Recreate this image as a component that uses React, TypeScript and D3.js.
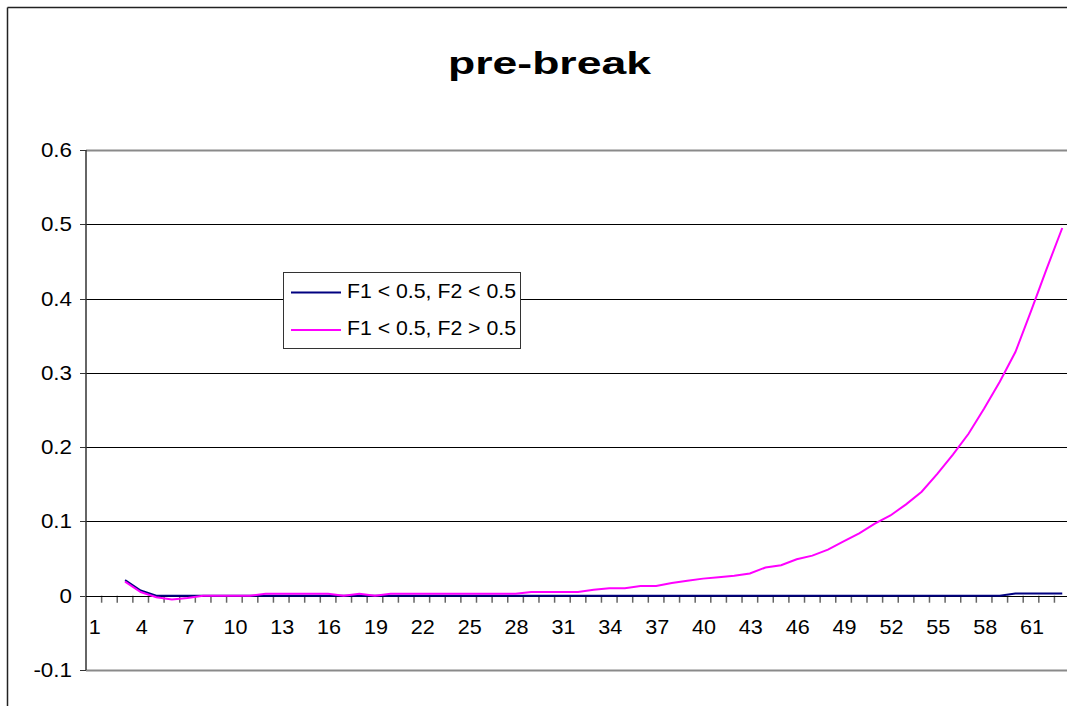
import React from "react";
import * as d3 from "d3";

const categories: number[] = [
  1, 2, 3, 4, 5, 6, 7, 8, 9, 10, 11, 12, 13, 14, 15, 16, 17, 18, 19, 20, 21,
  22, 23, 24, 25, 26, 27, 28, 29, 30, 31, 32, 33, 34, 35, 36, 37, 38, 39, 40,
  41, 42, 43, 44, 45, 46, 47, 48, 49, 50, 51, 52, 53, 54, 55, 56, 57, 58, 59,
  60, 61, 62, 63,
];

// F1 < 0.5, F2 < 0.5
const seriesBlue: (number | null)[] = [
  null, null, 0.021, 0.007, 0, 0, 0, 0, 0, 0, 0, 0, 0, 0, 0, 0, 0, 0, 0, 0, 0,
  0, 0, 0, 0, 0, 0, 0, 0, 0, 0, 0, 0, 0, 0, 0, 0, 0, 0, 0,
  0, 0, 0, 0, 0, 0, 0, 0, 0, 0, 0, 0, 0, 0, 0, 0, 0, 0, 0,
  0.003, 0.003, 0.003, 0.003,
];

// F1 < 0.5, F2 > 0.5
const seriesPink: (number | null)[] = [
  null, null, 0.019, 0.005, -0.002, -0.005, -0.003, 0, 0, 0, 0, 0.0025, 0.0025,
  0.0025, 0.0025, 0.0025, 0, 0.0025, 0, 0.0025, 0.0025,
  0.0025, 0.0025, 0.0025, 0.0025, 0.0025, 0.0025, 0.0025, 0.005, 0.005, 0.005,
  0.005, 0.008, 0.01, 0.01, 0.013, 0.013, 0.017, 0.02, 0.023,
  0.025, 0.027, 0.03, 0.038, 0.041, 0.049, 0.054, 0.062, 0.073, 0.084, 0.097,
  0.108, 0.123, 0.14, 0.164, 0.19, 0.218, 0.252, 0.288,
  0.328, 0.383, 0.44, 0.495,
];

const yTicks: number[] = [0.6, 0.5, 0.4, 0.3, 0.2, 0.1, 0, -0.1];
const yTickLabels: string[] = ["0.6", "0.5", "0.4", "0.3", "0.2", "0.1", "0", "-0.1"];
const xLabelCategories: number[] = [1, 4, 7, 10, 13, 16, 19, 22, 25, 28, 31, 34, 37, 40, 43, 46, 49, 52, 55, 58, 61];

const legendItems = [
  { label: "F1 < 0.5, F2 < 0.5", color: "#000080" },
  { label: "F1 < 0.5, F2 > 0.5", color: "#FF00FF" },
];

const FONT = "'Liberation Sans', Arial, sans-serif";

export default function App() {
  const left = 86;
  const right = 86 + 63 * 15.62;
  const top = 150;
  const bottom = 670;

  const x = d3
    .scaleBand<number>()
    .domain(categories)
    .range([left, right])
    .padding(0);
  const y = d3.scaleLinear().domain([-0.1, 0.6]).range([bottom, top]);
  const cx = (c: number) => (x(c) as number) + x.bandwidth() / 2;

  const line = d3
    .line<number | null>()
    .defined((d) => d !== null)
    .x((_, i) => cx(categories[i]))
    .y((d) => y(d as number));

  const zeroY = y(0);
  const boundaries = categories.map((c) => x(c) as number).concat([right]);

  return (
    <svg
      width={1067}
      height={706}
      style={{ position: "absolute", left: 0, top: 0, display: "block", overflow: "hidden" }}
    >
      <rect x={0} y={0} width={1067} height={706} fill="#fff" />
      {/* outer chart border (left and top edges visible) */}
      <line x1={7.5} x2={1067} y1={7.5} y2={7.5} stroke="#222" strokeWidth={1.5} />
      <line x1={7.5} x2={7.5} y1={7.5} y2={706} stroke="#222" strokeWidth={1.5} />

      {/* title */}
      <text
        x={448}
        y={74}
        fontFamily={FONT}
        fontWeight="bold"
        fontSize={32}
        textLength={203}
        lengthAdjust="spacingAndGlyphs"
        fill="#000"
      >
        pre-break
      </text>

      {/* gridlines */}
      {yTicks.map((t) => (
        <line
          key={"g" + t}
          x1={left}
          x2={right}
          y1={Math.round(y(t)) + 0.5}
          y2={Math.round(y(t)) + 0.5}
          stroke={t === 0.6 || t === -0.1 ? "#8a8a8a" : "#000"}
          strokeWidth={t === 0.6 || t === -0.1 ? 2 : 1}
        />
      ))}

      {/* y axis */}
      <line x1={left} x2={left} y1={top} y2={bottom} stroke="#333" strokeWidth={1.5} />
      {yTicks.map((t, i) => (
        <g key={"yt" + t}>
          <line
            x1={left - 6}
            x2={left}
            y1={Math.round(y(t)) + 0.5}
            y2={Math.round(y(t)) + 0.5}
            stroke="#333"
          />
          <text
            transform={`translate(${left - 14},${y(t) + 7}) scale(1.12,1)`}
            textAnchor="end"
            fontFamily={FONT}
            fontSize={20}
            fill="#000"
          >
            {yTickLabels[i]}
          </text>
        </g>
      ))}

      {/* x axis at zero */}
      {boundaries.map((b, i) => (
        <line
          key={"xt" + i}
          x1={b}
          x2={b}
          y1={zeroY}
          y2={zeroY + 7}
          stroke="#666"
          strokeWidth={1.5}
        />
      ))}
      <line
        x1={left}
        x2={right}
        y1={Math.round(zeroY) + 0.5}
        y2={Math.round(zeroY) + 0.5}
        stroke="#000"
        strokeWidth={1.2}
      />
      {xLabelCategories.map((c) => (
        <text
          key={"xl" + c}
          transform={`translate(${cx(c) + 1},${zeroY + 38}) scale(1.08,1)`}
          textAnchor="middle"
          fontFamily={FONT}
          fontSize={20}
          fill="#000"
        >
          {c}
        </text>
      ))}

      {/* series */}
      <path d={line(seriesBlue) || ""} fill="none" stroke="#000080" strokeWidth={2} />
      <path d={line(seriesPink) || ""} fill="none" stroke="#FF00FF" strokeWidth={2} />

      {/* legend */}
      <rect
        x={283.5}
        y={272.5}
        width={237}
        height={76}
        fill="#fff"
        stroke="#333"
        strokeWidth={1}
      />
      {legendItems.map((it, i) => {
        const ly = 292.5 + i * 37.5;
        return (
          <g key={it.label}>
            <line x1={291} x2={341} y1={ly} y2={ly} stroke={it.color} strokeWidth={2} />
            <text
              x={347}
              y={ly + 5}
              fontFamily={FONT}
              fontSize={21}
              textLength={169}
              lengthAdjust="spacingAndGlyphs"
              fill="#000"
            >
              {it.label}
            </text>
          </g>
        );
      })}
    </svg>
  );
}
